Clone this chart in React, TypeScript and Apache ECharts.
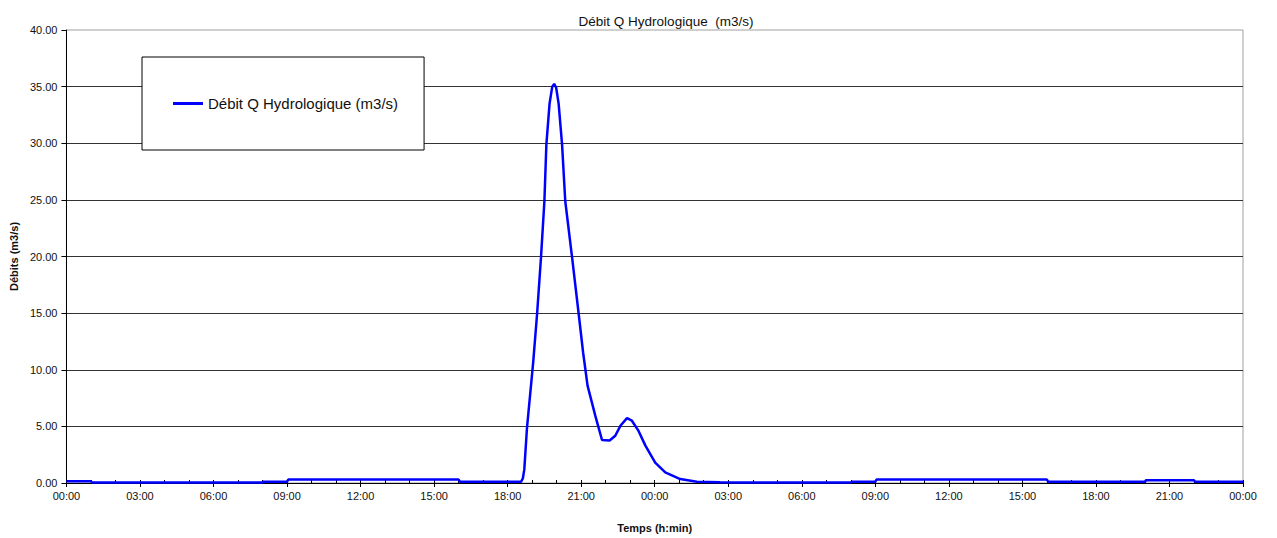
import React, { useEffect, useRef } from "react";
import * as echarts from "echarts";

// Time in hours from the start (00:00 day 1) to 48 (00:00 day 3)
const hours: number[] = [
  0, 1, 1.05, 8, 8.05, 9, 9.05, 16, 16.05, 18.55,
  18.62, 18.68, 18.79, 19.04, 19.2, 19.36, 19.5, 19.58, 19.71, 19.82, 19.9,
  19.98, 20.08, 20.22, 20.35, 20.63, 20.9, 21.08, 21.26, 21.58, 21.85,
  22.16, 22.39, 22.6, 22.87, 23.07, 23.34, 23.62, 24.02, 24.43, 25.04, 25.72, 26.67,
  27.2, 32, 32.05, 33, 33.05, 40, 40.05, 44, 44.05, 46, 46.05, 48,
];
const flows: number[] = [
  0.15, 0.15, 0.05, 0.05, 0.12, 0.12, 0.3, 0.3, 0.12, 0.12,
  0.4, 1.2, 4.9, 10.6, 14.9, 19.9, 24.9, 29.9, 33.5, 35.0, 35.24,
  34.9, 33.5, 29.9, 24.9, 19.9, 14.9, 11.5, 8.6, 5.9, 3.8,
  3.75, 4.17, 5.05, 5.73, 5.5, 4.6, 3.3, 1.8, 0.94, 0.35, 0.12, 0.06,
  0.05, 0.05, 0.12, 0.12, 0.3, 0.3, 0.12, 0.12, 0.25, 0.25, 0.1, 0.1,
];

const yTicks = { min: 0, max: 40, step: 5 };
const xTicks = { min: 0, max: 48, major: 3, minor: 1 };

const titleText = "Débit Q Hydrologique  (m3/s)";
const seriesName = "Débit Q Hydrologique (m3/s)";
const yName = "Débits (m3/s)";
const xName = "Temps (h:min)";

const FONT = "'Liberation Sans', Arial, sans-serif";

export default function App() {
  const ref = useRef<HTMLDivElement>(null);
  useEffect(() => {
    if (!ref.current) return;
    const chart = echarts.init(ref.current, undefined, { renderer: "svg" });
    const data = hours.map((h, i) => [h, flows[i]]);
    const fmtHour = (v: number) => {
      const h = Math.round(v) % 24;
      return (h < 10 ? "0" : "") + h + ":00";
    };
    chart.setOption({
      animation: false,
      backgroundColor: "#fff",
      textStyle: { fontFamily: FONT },
      title: {
        text: titleText,
        left: 661,
        textAlign: "center",
        top: 9,
        textStyle: { fontSize: 13.5, fontWeight: "normal", color: "#111", fontFamily: FONT },
      },
      legend: {
        left: 142,
        top: 57,
        orient: "horizontal",
        backgroundColor: "#fff",
        borderColor: "#000",
        borderWidth: 1,
        borderRadius: 0,
        padding: [39, 26, 39, 31],
        itemWidth: 30,
        itemHeight: 3,
        icon: "rect",
        itemGap: 0,
        textStyle: { fontSize: 15, color: "#111", fontFamily: FONT, padding: [0, 0, 0, 0] },
        data: [{ name: seriesName, itemStyle: { color: "#0000ff" } }],
      },
      grid: {
        left: 66,
        right: 34,
        top: 30,
        bottom: 54,
        show: true,
        borderColor: "#a0a0a0",
        borderWidth: 1,
        backgroundColor: "transparent",
      },
      xAxis: [
        {
          type: "value",
          min: xTicks.min,
          max: xTicks.max,
          interval: xTicks.major,
          name: xName,
          nameLocation: "middle",
          nameGap: 39,
          nameTextStyle: { fontSize: 11, fontWeight: "bold", color: "#111", fontFamily: FONT },
          axisLine: { show: true, onZero: false, lineStyle: { color: "#000", width: 1 } },
          axisTick: { show: true, inside: false, length: 4, lineStyle: { color: "#000" } },
          axisLabel: { fontSize: 11, color: "#111", margin: 7, formatter: fmtHour, fontFamily: FONT },
          splitLine: { show: false },
        },
        {
          type: "value",
          position: "bottom",
          min: xTicks.min,
          max: xTicks.max,
          interval: xTicks.minor,
          axisLine: { show: false, onZero: false },
          axisTick: { show: true, inside: true, length: 3, lineStyle: { color: "#000" } },
          axisLabel: { show: false },
          splitLine: { show: false },
        },
      ],
      yAxis: {
        type: "value",
        min: yTicks.min,
        max: yTicks.max,
        interval: yTicks.step,
        name: yName,
        nameLocation: "middle",
        nameRotate: 90,
        nameGap: 46,
        nameTextStyle: { fontSize: 11, fontWeight: "bold", color: "#111", fontFamily: FONT },
        axisLine: { show: true, lineStyle: { color: "#000", width: 1 } },
        axisTick: { show: true, inside: false, length: 5, lineStyle: { color: "#000" } },
        axisLabel: {
          fontSize: 11,
          color: "#111",
          margin: 9,
          fontFamily: FONT,
          formatter: (v: number) => v.toFixed(2),
        },
        splitLine: {
          show: true,
          showMaxLine: false,
          lineStyle: { color: "#333", width: 1 },
        },
      },
      series: [
        {
          name: seriesName,
          type: "line",
          xAxisIndex: 0,
          data,
          showSymbol: false,
          symbol: "none",
          lineStyle: { color: "#0000ff", width: 2.5 },
          itemStyle: { color: "#0000ff" },
          z: 3,
        },
      ],
    });
    return () => chart.dispose();
  }, []);
  return (
    <div
      ref={ref}
      style={{ position: "fixed", left: 0, top: 0, width: 1277, height: 538 }}
    />
  );
}
